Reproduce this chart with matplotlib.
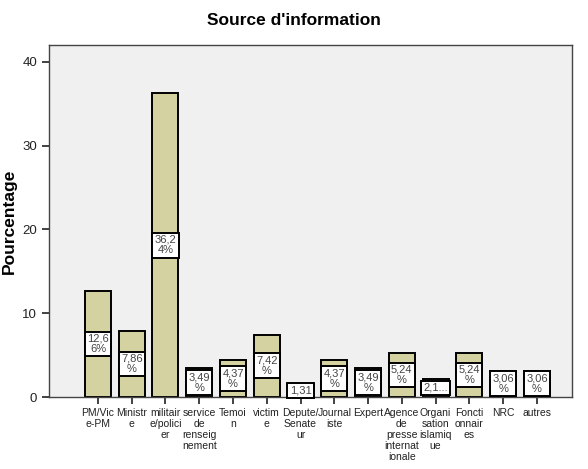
import matplotlib
matplotlib.use("Agg")
import matplotlib.pyplot as plt

categories = ["PM/Vic\ne-PM", "Ministr\ne", "militair\ne/polici\ner", "service\nde\nrenseig\nnement",
              "Temoi\nn", "victim\ne", "Depute/\nSenate\nur", "Journal\niste", "Expert",
              "Agence\nde\npresse\ninternat\nionale", "Organi\nsation\nislamiq\nue",
              "Foncti\nonnair\nes", "NRC", "autres"]
values = [12.66, 7.86, 36.24, 3.49, 4.37, 7.42, 1.31, 4.37, 3.49, 5.24, 2.18, 5.24, 3.06, 3.06]
value_labels = ["12,6\n6%", "7,86\n%", "36,2\n4%", "3,49\n%", "4,37\n%", "7,42\n%", "1,31",
                "4,37\n%", "3,49\n%", "5,24\n%", "2,1...", "5,24\n%", "3,06\n%", "3,06\n%"]
yticks = [0, 10, 20, 30, 40]

plt.rcParams['font.family'] = ['Liberation Sans', 'DejaVu Sans']

fig = plt.figure(figsize=(5.88, 4.69), dpi=100)
ax = fig.add_axes([49/588, 72/469, (572-49)/588, (397-45)/469])
ax.set_facecolor("#f0f0f0")

x = list(range(len(categories)))
ax.bar(x, values, width=0.77, color="#d5d2a2", edgecolor="black", linewidth=1.4, zorder=2)

for xi, v, lab in zip(x, values, value_labels):
    half = 1.6 if "\n" in lab else 0.8
    yc = max(v / 2, half)
    ax.text(xi, yc, lab, ha="center", va="center", fontsize=8, color="#444444",
            linespacing=1.05, zorder=3,
            bbox=dict(boxstyle="square,pad=0.2", facecolor="white", edgecolor="black", linewidth=1.4))

ax.set_xlim(-1.45, 14.04)
ax.set_ylim(0, 42.0)
ax.set_yticks(yticks)
ax.set_yticklabels([str(t) for t in yticks], fontsize=9.5, color="#222222")
ax.set_xticks(x)
ax.set_xticklabels(categories, fontsize=7.5, color="#222222", linespacing=1.12)
ax.tick_params(axis="both", direction="out", length=5, width=1.2, color="#222222")
ax.tick_params(axis="x", pad=3)
for s in ax.spines.values():
    s.set_color("#444444")
    s.set_linewidth(1.0)

ax.set_ylabel("Pourcentage", fontsize=12.5, fontweight="bold", labelpad=4)
fig.text(0.5, 0.957, "Source d'information", ha="center", va="center", fontsize=12.5, fontweight="bold")

fig.savefig("out.png", dpi=100)
